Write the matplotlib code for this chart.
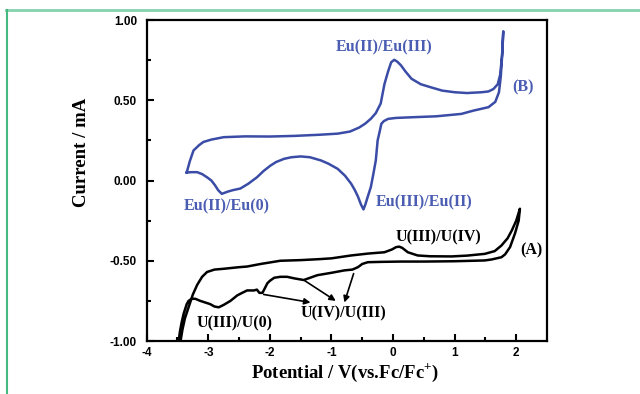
import matplotlib
matplotlib.use("Agg")
import matplotlib.pyplot as plt
from matplotlib.lines import Line2D

plt.rcParams['axes.unicode_minus'] = False
plt.rcParams['mathtext.fontset'] = 'custom'
plt.rcParams['mathtext.rm'] = 'Liberation Serif:bold'
plt.rcParams['mathtext.bf'] = 'Liberation Serif:bold'

# curve (B): Eu system, anodic branch then cathodic branch
eu_fwd_x = [-3.35, -3.30, -3.24, -3.15, -3.08, -2.95, -2.75, -2.4, -2.0, -1.6, -1.2, -0.9, -0.7,
            -0.55, -0.45, -0.36, -0.28, -0.2, -0.14, -0.08, -0.03, 0.02, 0.07, 0.13, 0.2, 0.3,
            0.45, 0.62, 0.8, 1.0, 1.2, 1.44, 1.55, 1.63, 1.70, 1.74, 1.77, 1.79]
eu_fwd_y = [0.05, 0.12, 0.187, 0.22, 0.24, 0.255, 0.27, 0.275, 0.274, 0.278, 0.285, 0.292, 0.305,
            0.33, 0.355, 0.385, 0.42, 0.48, 0.60, 0.68, 0.737, 0.752, 0.74, 0.717, 0.68, 0.634,
            0.60, 0.58, 0.56, 0.55, 0.545, 0.55, 0.555, 0.57, 0.60, 0.66, 0.78, 0.93]
eu_rev_x = [1.79, 1.775, 1.75, 1.72, 1.66, 1.55, 1.3, 1.11, 0.7, 0.3, 0.05, -0.08, -0.15, -0.19,
            -0.22, -0.25, -0.28, -0.32, -0.36, -0.41, -0.45, -0.48, -0.52, -0.57, -0.62, -0.68,
            -0.78, -0.90, -1.05, -1.17, -1.35, -1.50, -1.65, -1.77, -1.90, -1.99, -2.1, -2.21,
            -2.35, -2.48, -2.60, -2.69, -2.78, -2.84, -2.89, -2.95, -3.02, -3.10, -3.18, -3.27, -3.35]
eu_rev_y = [0.93, 0.80, 0.65, 0.55, 0.49, 0.457, 0.435, 0.415, 0.40, 0.394, 0.39, 0.384, 0.37,
            0.353, 0.30, 0.25, 0.125, 0.04, -0.04, -0.10, -0.15, -0.18, -0.15, -0.10, -0.06, -0.02,
            0.03, 0.073, 0.105, 0.125, 0.145, 0.15, 0.145, 0.135, 0.115, 0.093, 0.06, 0.02,
            -0.02, -0.05, -0.06, -0.07, -0.083, -0.06, -0.03, 0.0, 0.02, 0.04, 0.052, 0.052, 0.05]

# curve (A): U system
u_fwd_x = [-3.45, -3.42, -3.38, -3.32, -3.25, -3.18, -3.10, -3.02, -2.90, -2.75, -2.5, -2.37,
           -2.15, -1.83, -1.5, -1.2, -1.0, -0.68, -0.4, -0.14, -0.02, 0.05, 0.1, 0.15, 0.24,
           0.40, 0.6, 0.95, 1.2, 1.49, 1.65, 1.76, 1.86, 1.93, 2.0, 2.06]
u_fwd_y = [-1.0, -0.93, -0.86, -0.79, -0.71, -0.65, -0.60, -0.57, -0.555, -0.55, -0.54, -0.536,
           -0.52, -0.50, -0.496, -0.49, -0.485, -0.467, -0.455, -0.447, -0.43, -0.415, -0.412,
           -0.42, -0.447, -0.467, -0.472, -0.473, -0.468, -0.457, -0.44, -0.405, -0.36, -0.31,
           -0.25, -0.176]
u_rev_x = [2.06, 2.04, 1.98, 1.90, 1.82, 1.76, 1.6, 1.49, 1.0, 0.5, 0.13, -0.2, -0.41, -0.5,
           -0.57, -0.66, -0.79, -1.0, -1.23, -1.45, -1.6, -1.72, -1.83, -1.93, -2.00, -2.04,
           -2.08, -2.12, -2.17, -2.21, -2.26, -2.37, -2.45, -2.53, -2.64, -2.75, -2.83, -2.90,
           -2.97, -3.05, -3.13, -3.21, -3.27, -3.32, -3.35, -3.40, -3.43, -3.46, -3.48]
u_rev_y = [-0.176, -0.25, -0.33, -0.415, -0.46, -0.478, -0.492, -0.498, -0.503, -0.505, -0.505,
           -0.507, -0.509, -0.52, -0.54, -0.555, -0.56, -0.575, -0.59, -0.62, -0.61, -0.60, -0.60,
           -0.606, -0.625, -0.64, -0.67, -0.70, -0.70, -0.68, -0.685, -0.685, -0.70, -0.716,
           -0.75, -0.775, -0.79, -0.785, -0.77, -0.76, -0.75, -0.737, -0.737, -0.75, -0.77,
           -0.83, -0.88, -0.94, -1.0]

# peak labels
eu_labels = ["Eu(II)/Eu(III)", "Eu(II)/Eu(0)", "Eu(III)/Eu(II)", "(B)"]
eu_label_x = [-0.14, -2.70, 0.50, 2.11]
eu_label_y = [0.83, -0.16, -0.135, 0.58]
u_labels = ["U(III)/U(IV)", "U(IV)/U(III)", "U(III)/U(0)", "(A)"]
u_label_x = [0.74, -0.81, -2.58, 2.25]
u_label_y = [-0.353, -0.83, -0.893, -0.436]

# arrows: (start x, start y, end x, end y)
arrows = [(-2.10, -0.71, -1.34, -0.76),
          (-1.45, -0.62, -0.93, -0.75),
          (-0.64, -0.58, -0.79, -0.76)]

blue = '#3a4ca6'
blue_txt = '#4a5db2'

fig = plt.figure(figsize=(6.4, 3.94), dpi=100)
ax = fig.add_axes([0.2292, 0.1345, 0.6255, 0.8147])

ax.plot(eu_fwd_x + eu_rev_x, eu_fwd_y + eu_rev_y, color=blue, lw=1.8)
ax.plot(u_fwd_x + u_rev_x, u_fwd_y + u_rev_y, color='black', lw=1.8)

for t, x, y in zip(eu_labels, eu_label_x, eu_label_y):
    ax.text(x, y, t, color=blue_txt, ha='center', va='center', fontsize=11.5,
            family='Liberation Serif', weight='bold')
for t, x, y in zip(u_labels, u_label_x, u_label_y):
    ax.text(x, y, t, color='black', ha='center', va='center', fontsize=11.5,
            family='Liberation Serif', weight='bold')

for x0, y0, x1, y1 in arrows:
    ax.annotate('', xy=(x1, y1), xytext=(x0, y0),
                arrowprops=dict(arrowstyle='-|>', color='black', lw=1.2,
                                mutation_scale=9, shrinkA=0, shrinkB=0))

ax.set_xlim(-4, 2.5)
ax.set_ylim(-1.0, 1.0)
ax.set_xticks([-4, -3, -2, -1, 0, 1, 2])
ax.set_xticks([-3.5, -2.5, -1.5, -0.5, 0.5, 1.5], minor=True)
ax.set_yticks([-1.0, -0.5, 0.0, 0.5, 1.0])
ax.set_yticks([-0.75, -0.25, 0.25, 0.75], minor=True)
ax.set_yticklabels(['-1.00', '-0.50', '0.00', '0.50', '1.00'])
ax.tick_params(which='both', direction='in', width=1.5, top=False, right=False,
               labelsize=8.5)
ax.tick_params(which='major', length=5)
ax.tick_params(which='minor', length=3)
ax.tick_params(axis='y', pad=7)
ax.tick_params(axis='x', pad=4)
for lab in ax.get_xticklabels() + ax.get_yticklabels():
    lab.set_family('Liberation Sans')
    lab.set_weight('bold')
for s in ax.spines.values():
    s.set_linewidth(1.6)

ax.set_ylabel('Current / mA', family='Liberation Serif', weight='bold', fontsize=13.5)
ax.yaxis.set_label_coords(-0.142, 0.589)
ax.set_xlabel(r'Potential / V(vs.Fc/Fc$^{+}$)', family='Liberation Serif', weight='bold',
              fontsize=13.5)
ax.xaxis.label.set_va('center')
ax.xaxis.set_label_coords(0.495, -0.10)

# green page border
fig.add_artist(Line2D([6 / 640, 1], [1 - 10 / 394, 1 - 10 / 394], color='#84d3ad', lw=2))
fig.add_artist(Line2D([7 / 640, 7 / 640], [0, 1 - 10 / 394], color='#45b980', lw=1.5))

fig.savefig('out.png', dpi=100)
